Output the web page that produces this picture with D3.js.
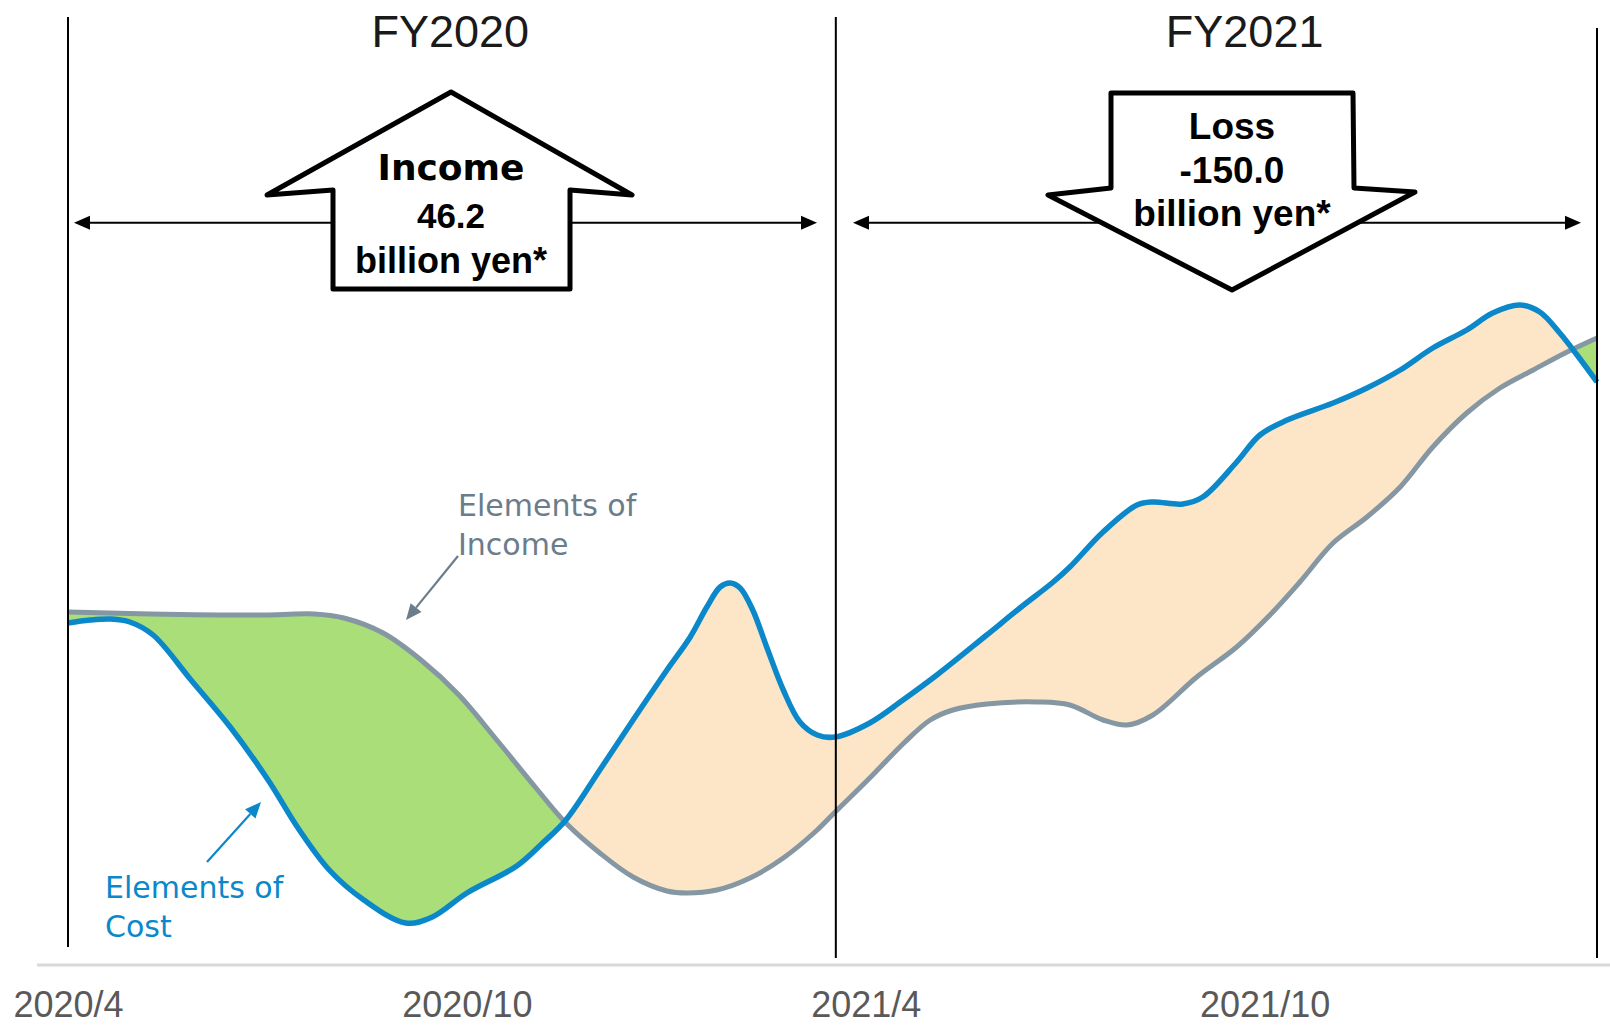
<!DOCTYPE html>
<html><head><meta charset="utf-8">
<script src="https://cdn.jsdelivr.net/npm/d3@7"></script>
<style>html,body{margin:0;padding:0;background:#fff;} svg{display:block;}</style>
</head><body>
<svg id="chart" width="1610" height="1026"></svg>
<script>
// ---------- data ----------
const tickMonths = [0, 6, 12, 18];                 // months since 2020/4
const tickLabels = ["2020/4", "2020/10", "2021/4", "2021/10"];
const fiscalYears = ["FY2020", "FY2021"];
const fyBounds = [0, 11.55, 23];                   // fiscal-year divider lines (months)
const fyLabelMonths = [5.75, 17.7];
const resultTexts = [["Income", "46.2", "billion yen*"], ["Loss", "-150.0", "billion yen*"]];

// Elements of Cost (blue line), index units
const costMonths = [0.00,0.33,0.65,0.93,1.28,1.85,2.44,3.01,3.46,3.93,4.45,5.08,5.48,6.00,6.75,7.14,7.49,8.00,8.50,9.01,9.36,9.61,9.81,9.96,10.11,10.30,10.51,10.76,11.01,11.27,11.54,12.06,12.56,13.07,13.82,14.32,14.82,15.07,15.57,16.08,16.32,16.77,17.07,17.58,17.93,18.34,19.03,19.54,20.04,20.53,21.04,21.43,21.84,22.14,22.44,22.70,23.00];
const costValues = [68.4,69.0,69.2,68.6,66.0,57.0,47.6,37.0,27.4,19.0,13.0,8.4,9.6,14.4,19.8,24.4,29.0,39.0,49.0,59.0,65.6,71.6,75.6,76.4,75.4,71.0,63.6,55.0,48.6,46.0,45.6,48.4,53.0,58.0,66.0,71.4,76.6,79.6,86.6,92.0,92.6,92.2,93.6,100.6,106.0,109.0,112.4,115.4,119.0,123.4,127.0,130.4,132.0,130.6,126.4,122.0,116.6];

// Elements of Income (gray line), index units
const incomeMonths = [0.00,1.23,3.01,3.70,4.15,4.74,5.31,5.88,6.45,7.04,7.49,8.00,8.50,9.01,9.31,9.76,10.26,10.76,11.27,11.54,12.06,12.59,12.97,13.31,13.82,14.58,15.07,15.57,15.93,16.32,16.98,17.58,18.08,18.53,19.03,19.54,20.04,20.53,21.04,21.54,22.04,22.55,23.00];
const incomeValues = [70.6,70.2,70.0,70.2,69.4,66.4,61.0,54.0,45.0,35.4,28.4,22.4,17.6,14.8,14.4,15.0,17.4,21.4,27.0,30.6,37.4,44.6,49.0,51.0,52.2,52.6,52.0,49.0,48.0,50.0,57.6,63.6,70.0,76.6,84.4,89.6,95.6,103.6,110.4,115.4,119.0,122.6,125.4];

// ---------- layout ----------
const W = 1610, H = 1026;
const C = { cost: "#0A88CA", income: "#8597A3", gain: "#A9DE78", loss: "#FDE5C7",
            incomeText: "#6B7D8A", axisText: "#595959", baseline: "#D9D9D9" };
const svg = d3.select("#chart");
const x = d3.scaleLinear().domain([0, 23]).range([68, 1597]);
const y = d3.scaleLinear().domain([0, 140]).range([965, 265]);

const cost = costMonths.map((m, i) => ({ m, v: costValues[i] }));
const income = incomeMonths.map((m, i) => ({ m, v: incomeValues[i] }));
const curve = d3.curveCatmullRom.alpha(0.5);

// clip paths
const defs = svg.append("defs");
defs.append("clipPath").attr("id", "aboveCost").append("path")
  .attr("d", d3.area().x(d => x(d.m)).y0(0).y1(d => y(d.v)).curve(curve)(cost));
defs.append("clipPath").attr("id", "belowCost").append("path")
  .attr("d", d3.area().x(d => x(d.m)).y0(H).y1(d => y(d.v)).curve(curve)(cost));

// green: below income & above cost
svg.append("g").attr("clip-path", "url(#aboveCost)").append("path")
  .attr("d", d3.area().x(d => x(d.m)).y0(H).y1(d => y(d.v)).curve(curve)(income))
  .attr("fill", C.gain);
// peach: above income & below cost
svg.append("g").attr("clip-path", "url(#belowCost)").append("path")
  .attr("d", d3.area().x(d => x(d.m)).y0(0).y1(d => y(d.v)).curve(curve)(income))
  .attr("fill", C.loss);

const line = d3.line().x(d => x(d.m)).y(d => y(d.v)).curve(curve);
svg.append("path").attr("d", line(income)).attr("fill", "none")
  .attr("stroke", C.income).attr("stroke-width", 5);
svg.append("path").attr("d", line(cost)).attr("fill", "none")
  .attr("stroke", C.cost).attr("stroke-width", 5.5);

// baseline
svg.append("line").attr("x1", 37).attr("x2", W).attr("y1", 965).attr("y2", 965)
  .attr("stroke", C.baseline).attr("stroke-width", 3);

// fiscal year dividers
const divTop = [17, 17, 28], divBottom = [947, 958, 958];
svg.selectAll("line.fy").data(fyBounds).join("line").attr("class", "fy")
  .attr("x1", d => x(d)).attr("x2", d => x(d))
  .attr("y1", (d, i) => divTop[i]).attr("y2", (d, i) => divBottom[i])
  .attr("stroke", "#000").attr("stroke-width", 2);

// x axis
const axis = svg.append("g").attr("transform", "translate(0,965)")
  .call(d3.axisBottom(x).tickValues(tickMonths).tickFormat((d, i) => tickLabels[i]).tickSize(0));
axis.select(".domain").remove();
axis.selectAll("text").attr("y", 52).attr("dy", 0)
  .attr("font-family", "'Liberation Sans', Arial, sans-serif").attr("font-size", 36)
  .attr("fill", C.axisText);

// FY labels
svg.selectAll("text.fyl").data(fiscalYears).join("text").attr("class", "fyl")
  .attr("x", (d, i) => x(fyLabelMonths[i])).attr("y", 47).attr("text-anchor", "middle")
  .attr("font-family", "'Liberation Sans', Arial, sans-serif").attr("font-size", 45)
  .attr("fill", "#1a1a1a").text(d => d);

// double-headed period arrows
const spanY = 222.7;
const spans = [[74, 817], [853, 1581]];
spans.forEach(([a, b]) => {
  svg.append("line").attr("x1", a + 10).attr("x2", b - 10).attr("y1", spanY).attr("y2", spanY)
    .attr("stroke", "#000").attr("stroke-width", 2);
  svg.append("path").attr("d", `M${a},${spanY} L${a + 16},${spanY - 7} L${a + 16},${spanY + 7} Z`).attr("fill", "#000");
  svg.append("path").attr("d", `M${b},${spanY} L${b - 16},${spanY - 7} L${b - 16},${spanY + 7} Z`).attr("fill", "#000");
});

// block arrows
const upX = 451, downX = 1232;
const upPts = [[0,92],[181,195],[119,190],[119,289],[-118,289],[-118,190],[-184,195]];
const downPts = [[-121,93],[121,93],[122,188],[183,192],[0,290],[-184,195],[-121,188]];
svg.append("polygon").attr("points", upPts.map(p => [upX + p[0], p[1]].join(",")).join(" "))
  .attr("fill", "#fff").attr("stroke", "#000").attr("stroke-width", 5).attr("stroke-linejoin", "round");
svg.append("polygon").attr("points", downPts.map(p => [downX + p[0], p[1]].join(",")).join(" "))
  .attr("fill", "#fff").attr("stroke", "#000").attr("stroke-width", 5).attr("stroke-linejoin", "round");

const boldArial = "'Liberation Sans', Arial, sans-serif";
const upStyle = [{ y: 180, s: 36, f: "'DejaVu Sans', Verdana, sans-serif" }, { y: 228, s: 35, f: boldArial }, { y: 273, s: 36, f: boldArial }];
const downStyle = [{ y: 139, s: 37, f: boldArial }, { y: 183, s: 37, f: boldArial }, { y: 226, s: 37, f: boldArial }];
[[upX, upStyle], [downX, downStyle]].forEach(([cx, st], k) => {
  resultTexts[k].forEach((t, i) => {
    svg.append("text").attr("x", cx).attr("y", st[i].y).attr("text-anchor", "middle")
      .attr("font-family", st[i].f).attr("font-weight", "bold").attr("font-size", st[i].s)
      .attr("fill", "#000").text(t);
  });
});

// annotations
function annot(lines, tx, ty, color, from, to) {
  const t = svg.append("text").attr("font-family", "'DejaVu Sans', Verdana, sans-serif")
    .attr("font-size", 30).attr("fill", color);
  lines.forEach((l, i) => t.append("tspan").attr("x", tx).attr("y", ty + i * 38.5).text(l));
  const [x1, y1] = from, [x2, y2] = to;
  const ang = Math.atan2(y2 - y1, x2 - x1), L = 16, hw = 7;
  const bx = x2 - L * Math.cos(ang), by = y2 - L * Math.sin(ang);
  svg.append("line").attr("x1", x1).attr("y1", y1).attr("x2", bx).attr("y2", by)
    .attr("stroke", color).attr("stroke-width", 2.2);
  svg.append("path").attr("d",
    `M${x2},${y2} L${bx - hw * Math.sin(ang)},${by + hw * Math.cos(ang)} L${bx + hw * Math.sin(ang)},${by - hw * Math.cos(ang)} Z`)
    .attr("fill", color);
}
annot(["Elements of", "Income"], 458, 516, C.incomeText, [458, 556], [406, 620]);
annot(["Elements of", "Cost"], 105, 898, C.cost, [207, 862], [261, 802]);
</script>
</body></html>
